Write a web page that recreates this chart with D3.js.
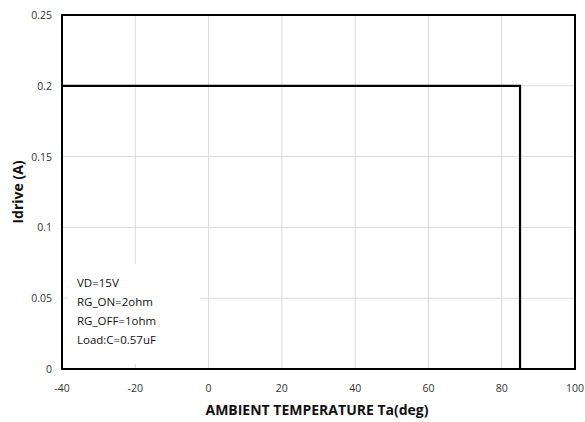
<!DOCTYPE html>
<html>
<head>
<meta charset="utf-8">
<script src="https://cdn.jsdelivr.net/npm/d3@7"></script>
<style>
  body { margin: 0; background: #fff; }
  text { font-family: "Open Sans", "Noto Sans", sans-serif; }
</style>
</head>
<body>
<div id="chart"></div>
<script>
// derating curve: Idrive vs ambient temperature
let tempC = [-40, 85, 85];
let idrive = [0.2, 0.2, 0];
let xTicks = [-40, -20, 0, 20, 40, 60, 80, 100];
let yTicks = [0, 0.05, 0.1, 0.15, 0.2, 0.25];
let notes = ["VD=15V", "RG_ON=2ohm", "RG_OFF=1ohm", "Load:C=0.57uF"];

let width = 585, height = 422;
let margin = {left: 62, right: 10, top: 15, bottom: 53};

let svg = d3.select("#chart").append("svg")
    .attr("width", width)
    .attr("height", height);

let x = d3.scaleLinear().domain([-40, 100]).range([margin.left, width - margin.right]);
let y = d3.scaleLinear().domain([0, 0.25]).range([height - margin.bottom, margin.top]);

// grid
svg.append("g").selectAll("line")
    .data(xTicks.slice(1, -1))
    .join("line")
    .attr("x1", d => x(d)).attr("x2", d => x(d))
    .attr("y1", y(0.25)).attr("y2", y(0))
    .attr("stroke", "#d9d9d9").attr("stroke-width", 1);
svg.append("g").selectAll("line")
    .data(yTicks.slice(1, -1))
    .join("line")
    .attr("x1", x(-40)).attr("x2", x(100))
    .attr("y1", d => y(d)).attr("y2", d => y(d))
    .attr("stroke", "#d9d9d9").attr("stroke-width", 1);

// notes box covers the grid
let noteBox = svg.append("g").attr("transform", "translate(" + (x(-40) + 6) + "," + (y(0.05) - 34) + ")");
noteBox.append("rect")
    .attr("width", 132).attr("height", 100)
    .attr("fill", "#fff");
noteBox.selectAll("text")
    .data(notes)
    .join("text")
    .attr("x", 9)
    .attr("y", (d, i) => 23 + i * 19)
    .attr("font-size", "11.5px")
    .attr("fill", "#111")
    .text(d => d);

// frame
svg.append("rect")
    .attr("x", x(-40)).attr("y", y(0.25))
    .attr("width", x(100) - x(-40)).attr("height", y(0) - y(0.25))
    .attr("fill", "none").attr("stroke", "#000").attr("stroke-width", 2);

// data line
let line = d3.line().x((d, i) => x(tempC[i])).y(d => y(d));
svg.append("path")
    .datum(idrive)
    .attr("d", line)
    .attr("fill", "none")
    .attr("stroke", "#000")
    .attr("stroke-width", 2.2);

// tick labels
svg.append("g").selectAll("text")
    .data(yTicks)
    .join("text")
    .attr("x", 52)
    .attr("y", d => y(d) + 4)
    .attr("text-anchor", "end")
    .attr("font-size", "10.5px")
    .attr("fill", "#333")
    .text(d => d3.format("~g")(d));
svg.append("g").selectAll("text")
    .data(xTicks)
    .join("text")
    .attr("x", d => x(d))
    .attr("y", 392)
    .attr("text-anchor", "middle")
    .attr("font-size", "10.5px")
    .attr("fill", "#333")
    .text(d => d);

// axis titles
svg.append("text")
    .attr("x", 317).attr("y", 415)
    .attr("text-anchor", "middle")
    .attr("font-size", "14px")
    .attr("font-weight", "bold")
    .attr("fill", "#111")
    .text("AMBIENT TEMPERATURE Ta(deg)");
svg.append("text")
    .attr("transform", "translate(23," + 192 + ") rotate(-90)")
    .attr("text-anchor", "middle")
    .attr("font-size", "14px")
    .attr("font-weight", "bold")
    .attr("fill", "#111")
    .text("Idrive (A)");
</script>
</body>
</html>
